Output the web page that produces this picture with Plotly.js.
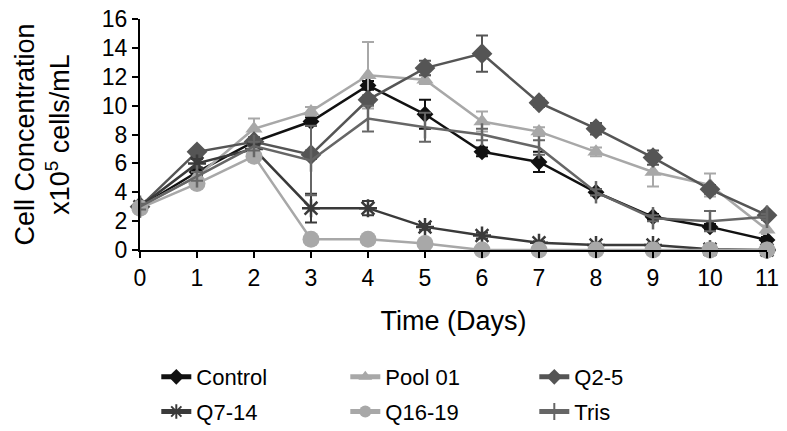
<!DOCTYPE html>
<html>
<head>
<meta charset="utf-8">
<script src="https://cdn.plot.ly/plotly-3.0.1.min.js"></script>
<style>html,body{margin:0;padding:0;background:#fff;}#chart{width:787px;height:431px;}</style>
</head>
<body>
<div id="chart"></div>
<script>
const days = [0,1,2,3,4,5,6,7,8,9,10,11];
const seriesNames = ["Control","Pool 01","Q2-5","Q7-14","Q16-19","Tris"];
const control    = [3.0, 5.4, 7.5, 8.9, 11.4, 9.4, 6.8, 6.1, 4.0, 2.3, 1.6, 0.7];
const controlErr = [0.2, 0.3, 0.3, 0.3, 0.3, 1.0, 0.3, 0.7, 0.2, 0.2, 0.2, 0.2];
const pool01     = [3.0, 5.1, 8.4, 9.6, 12.1, 11.8, 8.9, 8.2, 6.8, 5.4, 4.5, 1.4];
const pool01Err  = [0.2, 0.3, 0.7, 0.3, 2.3, 0.3, 0.7, 0.3, 0.3, 1.0, 0.8, 0.3];
const q25        = [3.0, 6.8, 7.5, 6.6, 10.4, 12.6, 13.6, 10.2, 8.4, 6.4, 4.2, 2.4];
const q25Err     = [0.2, 0.2, 0.3, 0.3, 0.3, 0.5, 1.25, 0.3, 0.4, 0.5, 0.3, 0.3];
const q714       = [3.0, 6.0, 7.0, 2.9, 2.9, 1.6, 1.0, 0.5, 0.35, 0.35, 0.05, 0.0];
const q714Err    = [0.2, 0.3, 0.3, 1.0, 0.5, 0.2, 0.2, 0.1, 0.1, 0.1, 0.05, 0.0];
const q1619      = [2.9, 4.6, 6.5, 0.75, 0.75, 0.45, 0.0, 0.0, 0.0, 0.0, 0.0, 0.0];
const q1619Err   = [0.1, 0.2, 0.2, 0.1, 0.1, 0.1, 0.0, 0.0, 0.0, 0.0, 0.0, 0.0];
const tris       = [3.0, 5.1, 7.2, 6.2, 9.1, 8.5, 8.0, 7.1, 4.0, 2.2, 2.0, 2.3];
const trisErr    = [0.2, 0.3, 0.3, 2.4, 0.9, 1.0, 0.4, 0.5, 0.2, 0.2, 0.7, 0.2];

const values = [control, pool01, q25, q714, q1619, tris];
const errs = [controlErr, pool01Err, q25Err, q714Err, q1619Err, trisErr];
const colors = ["#111111","#a8a8a8","#555555","#3a3a3a","#a8a8a8","#666666"];
const symbols = ["diamond","triangle-up","diamond","asterisk-open","circle","line-ns-open"];
const sizes = [13,15,16,15,17,16];
const legendOf = ["legend","legend","legend","legend2","legend2","legend2"];

const traces = seriesNames.map((n,i)=>({
  x: days, y: values[i], name: n, type: 'scatter', mode: 'lines+markers',
  cliponaxis: false, legend: legendOf[i],
  line: {color: colors[i], width: 2.5},
  marker: {symbol: symbols[i], size: sizes[i], color: colors[i], line: {color: colors[i], width: (symbols[i].endsWith('open') ? 2.5 : 0)}},
  error_y: {type: 'data', array: errs[i], visible: true, color: colors[i], thickness: 2, width: 6}
}));

const legBase = {orientation: 'h', xanchor: 'left', yanchor: 'middle', x: 0.026,
  entrywidth: 144, entrywidthmode: 'pixels', font: {size: 22}, bgcolor: 'rgba(0,0,0,0)',
  itemsizing: 'constant'};

const layout = {
  width: 787, height: 431,
  margin: {l: 140, r: 20, t: 19, b: 181, autoexpand: false},
  paper_bgcolor: '#fff', plot_bgcolor: '#fff',
  font: {family: 'Liberation Sans, Arial, sans-serif', color: '#000', size: 22},
  showlegend: true,
  legend: Object.assign({}, legBase, {y: -0.55}),
  legend2: Object.assign({}, legBase, {y: -0.70}),
  xaxis: {range: [0, 11], tickmode: 'array', tickvals: days, ticktext: days.map(String),
          showline: true, linecolor: '#000', linewidth: 2, ticks: 'outside', ticklen: 6,
          tickwidth: 2, tickcolor: '#000', showgrid: false, zeroline: false,
          tickfont: {size: 23},
          title: {text: 'Time (Days)', font: {size: 27}, standoff: 22}},
  yaxis: {range: [0, 16], dtick: 2, showline: true, linecolor: '#000', linewidth: 2,
          ticks: 'outside', ticklen: 6, tickwidth: 2, tickcolor: '#000', showgrid: false,
          zeroline: false, tickfont: {size: 23},
          title: {text: 'Cell Concentration<br>x10<sup>5</sup> cells/mL', font: {size: 27}, standoff: 24}}
};

Plotly.newPlot('chart', traces, layout, {staticPlot: true, displayModeBar: false});
</script>
</body>
</html>
